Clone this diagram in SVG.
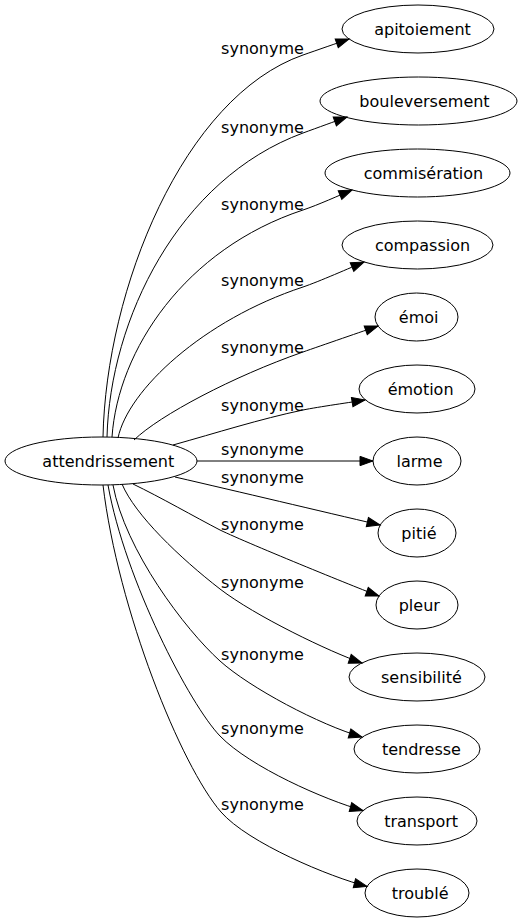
<svg xmlns="http://www.w3.org/2000/svg" width="519" height="923" viewBox="0 0 519 923">
<style>
text{font-family:"DejaVu Sans","Liberation Sans",sans-serif;font-size:16px;fill:#000;text-anchor:middle}
ellipse{fill:none;stroke:#000;stroke-width:1}
.e path{fill:none;stroke:#000;stroke-width:1;marker-end:url(#ah)}
</style>
<defs>
<marker id="ah" markerUnits="userSpaceOnUse" markerWidth="14" markerHeight="11" refX="13" refY="4.65" orient="auto" overflow="visible">
<path d="M0,0 L13,4.65 L0,9.3 Z" fill="#000" stroke="#000" stroke-width="1"/>
</marker>
</defs>
<rect width="519" height="923" fill="#fff"/>
<g id="edges" class="e">
<path d="M103,437 C106,290 183,97 303,55 C318,49.75 337,43.2 349,39"/>
<path d="M107,437 C110,320 178,179 303,133 C318,127.5 335,121.4 347,117"/>
<path d="M112,437 C118,350 185,249 303,210 C318,205 340,195 352,190"/>
<path d="M118,438 C128,390 203,320 303,287 C318,282 352,267 364,262"/>
<path d="M134,440 C160,415 233,376.5 303,352 C320,346 366,330.2 378,326"/>
<path d="M173,445 C216,433 260,419 303,410 C318,406.9 353,402 365,400"/>
<path d="M197,461 L373,461"/>
<path d="M175,477 C240,492 320,511 380,525"/>
<path d="M133,484 C160,497 195,517 220,530 C250,544.4 367,591.8 379,596"/>
<path d="M122,484 C135,515 180,558 220,589 C255,616 330,652 362,663"/>
<path d="M113,485 C125,550 185,629.5 220,661 C250,688 320,725 362,737"/>
<path d="M108,485 C125,580 190,705 220,736 C250,767 325,800 363,810.5"/>
<path d="M103,485 C118,610 181,766 221,812 C248,843 330,877 367,886.4"/>
</g>
<g id="edge-labels">
<text x="262.5" y="54">synonyme</text>
<text x="262.5" y="133">synonyme</text>
<text x="262.5" y="210">synonyme</text>
<text x="262.5" y="286">synonyme</text>
<text x="262.5" y="353">synonyme</text>
<text x="262.5" y="411">synonyme</text>
<text x="262.5" y="455">synonyme</text>
<text x="262.5" y="483">synonyme</text>
<text x="262.5" y="530">synonyme</text>
<text x="262.5" y="588">synonyme</text>
<text x="262.5" y="660">synonyme</text>
<text x="262.5" y="734">synonyme</text>
<text x="262.5" y="810">synonyme</text>
</g>
<g id="attendrissement"><ellipse cx="101" cy="461" rx="96" ry="24"/><text x="108.3" y="466.5">attendrissement</text></g>
<g id="apitoiement"><ellipse cx="418" cy="29" rx="76" ry="24"/><text x="422.5" y="34.5">apitoiement</text></g>
<g id="bouleversement"><ellipse cx="418.5" cy="101" rx="98.5" ry="24"/><text x="424.5" y="106.5">bouleversement</text></g>
<g id="commiseration"><ellipse cx="417.5" cy="173" rx="92.5" ry="24"/><text x="423.5" y="178.5">commisération</text></g>
<g id="compassion"><ellipse cx="417.5" cy="245" rx="75.5" ry="24"/><text x="422.5" y="250.5">compassion</text></g>
<g id="emoi"><ellipse cx="416.5" cy="317" rx="41.5" ry="24"/><text x="418.7" y="322.5">émoi</text></g>
<g id="emotion"><ellipse cx="417" cy="389" rx="58" ry="24"/><text x="420.6" y="394.5">émotion</text></g>
<g id="larme"><ellipse cx="417" cy="461" rx="44" ry="24"/><text x="419.5" y="466.5">larme</text></g>
<g id="pitie"><ellipse cx="417" cy="533" rx="39" ry="24"/><text x="418.9" y="538.5">pitié</text></g>
<g id="pleur"><ellipse cx="417" cy="605" rx="41" ry="24"/><text x="419.3" y="610.5">pleur</text></g>
<g id="sensibilite"><ellipse cx="417" cy="677" rx="68" ry="24"/><text x="421.4" y="682.5">sensibilité</text></g>
<g id="tendresse"><ellipse cx="417" cy="749" rx="63" ry="24"/><text x="421.4" y="754.5">tendresse</text></g>
<g id="transport"><ellipse cx="417" cy="821" rx="60" ry="24"/><text x="421.1" y="826.5">transport</text></g>
<g id="trouble"><ellipse cx="417" cy="893" rx="52" ry="24"/><text x="420.1" y="898.5">troublé</text></g>
</svg>
